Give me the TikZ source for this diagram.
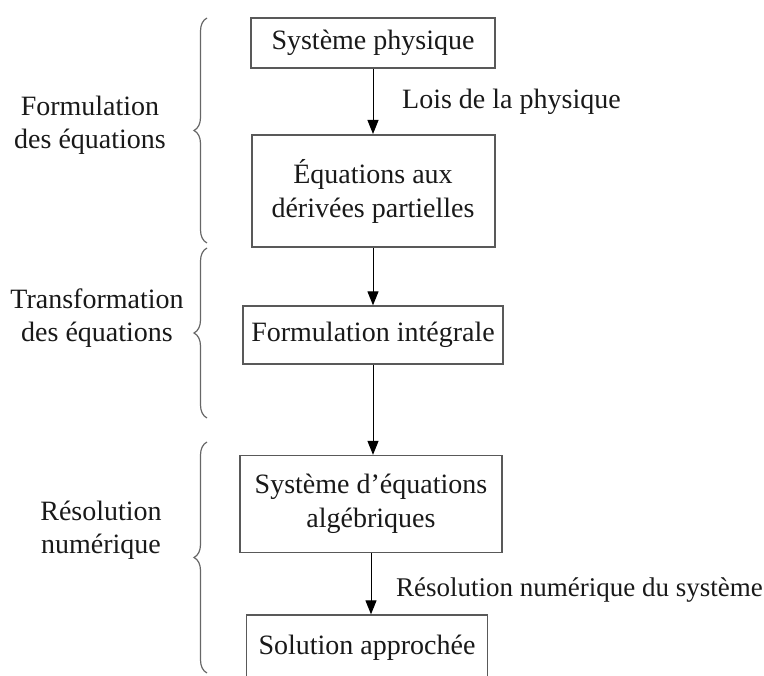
\documentclass[tikz,border=0pt]{standalone}
\usepackage{fontspec}
\setmainfont{Liberation Serif}
\usetikzlibrary{arrows.meta,decorations.pathreplacing}

\begin{document}
\begin{tikzpicture}[x=1pt,y=-1pt]
\tikzstyle{boite}=[draw=black!65,line width=1.3pt,align=center,inner sep=0pt,font=\fontsize{28}{34}\selectfont,text=black!90]
\tikzstyle{etiquette}=[align=center,inner sep=0pt,font=\fontsize{28}{33}\selectfont,text=black!90]
\tikzstyle{fleche}=[-{Triangle[length=14pt,width=11pt]},line width=1pt]
\tikzstyle{accolade}=[decorate,decoration={brace,amplitude=13pt},draw=black!60,line width=1.2pt]

\def\xc{373}
\def\xa{207}

\useasboundingbox (0,0) rectangle (764,676);

% boites de la chaine
\node[boite,minimum width=244pt,minimum height=50pt] (systeme) at (\xc,43) {Système physique};
\node[boite,line width=2pt,minimum width=243pt,minimum height=112pt] (edp) at (\xc,191) {Équations aux\\dérivées partielles};
\node[boite,minimum width=260pt,minimum height=58pt] (integrale) at (\xc,335) {Formulation intégrale};
\node[boite,minimum width=262pt,minimum height=97pt] (algebrique) at (371,504) {Système d’équations\\algébriques};
\node[boite,minimum width=241pt,minimum height=66pt] (solution) at (367,648) {Solution approchée};

% fleches
\draw[fleche] (systeme) -- (edp);
\draw[fleche] (edp) -- (integrale);
\draw[fleche] (integrale.south) -- (integrale.south |- algebrique.north);
\draw[fleche] (algebrique.south) -- (algebrique.south |- solution.north);

\node[etiquette,anchor=west] (lois) at (402,102) {Lois de la physique};
\node[etiquette,anchor=west,font=\fontsize{27}{33}\selectfont] (resnum) at (396,590) {Résolution numérique du système};

% accolades et etapes
\draw[accolade] (\xa,243) -- (\xa,18);
\draw[accolade] (\xa,418) -- (\xa,248);
\draw[accolade] (\xa,673) -- (\xa,442);

\node[etiquette] (formulation) at (90,125) {Formulation\\des équations};
\node[etiquette] (transformation) at (97,318) {Transformation\\des équations};
\node[etiquette] (resolution) at (101,530) {Résolution\\numérique};

\end{tikzpicture}
\end{document}
